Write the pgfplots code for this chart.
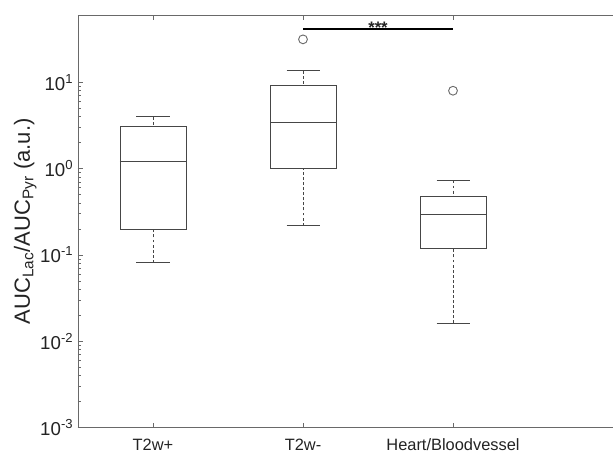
\documentclass[border=0pt]{standalone}
\usepackage{fontspec}
\setmainfont{Liberation Sans}
\usepackage{pgfplots}
\pgfplotsset{compat=1.18}
\usepgfplotslibrary{statistics}
\definecolor{axgray}{RGB}{105,105,105}
\definecolor{boxgray}{RGB}{70,70,70}
\definecolor{txtgray}{RGB}{35,35,35}

\pgfplotsset{
  matbox/.style={
    solid, boxgray, line width=0.6pt,
    mark=o, mark size=3.3pt, mark options={solid, boxgray!80, line width=0.7pt},
    boxplot/draw direction=y,
    boxplot/box extend=0.44,
    boxplot/whisker extend=0.22,
    boxplot/draw/lower whisker/.code={
      \draw[boxgray, line width=0.6pt, dash pattern=on 2.2pt off 1.6pt]
        (boxplot box cs:\pgfplotsboxplotvalue{lower whisker},0.5) --
        (boxplot box cs:\pgfplotsboxplotvalue{lower quartile},0.5);
      \draw[boxgray, line width=0.6pt]
        (boxplot whisker cs:\pgfplotsboxplotvalue{lower whisker},0) --
        (boxplot whisker cs:\pgfplotsboxplotvalue{lower whisker},1);
    },
    boxplot/draw/upper whisker/.code={
      \draw[boxgray, line width=0.6pt, dash pattern=on 2.2pt off 1.6pt]
        (boxplot box cs:\pgfplotsboxplotvalue{upper whisker},0.5) --
        (boxplot box cs:\pgfplotsboxplotvalue{upper quartile},0.5);
      \draw[boxgray, line width=0.6pt]
        (boxplot whisker cs:\pgfplotsboxplotvalue{upper whisker},0) --
        (boxplot whisker cs:\pgfplotsboxplotvalue{upper whisker},1);
    },
  }
}

\begin{document}
\begin{tikzpicture}
\begin{axis}[
  name=ax,
  scale only axis,
  width=416.25pt, height=309.5pt,
  ymode=log,
  xmin=0.5, xmax=4.2,
  ymin=1e-3, ymax=60.3,
  axis x line*=box, axis y line*=left,
  x axis line style={-}, y axis line style={-},
  axis line style={axgray, line width=0.6pt},
  tick style={axgray, line width=0.6pt},
  tick align=inside,
  xtick pos=both, ytick pos=left,
  major tick length=3.8pt, minor tick length=2.2pt,
  xtick={1,2,3},
  xticklabels={T2w+,T2w-,Heart/Bloodvessel},
  ytick={1e-3,1e-2,1e-1,1,10},
  yticklabels={10\textsuperscript{-3},10\textsuperscript{-2},10\textsuperscript{-1},10\textsuperscript{0},10\textsuperscript{1}},
  xticklabel style={font=\fontsize{12.3}{14}\selectfont, text=txtgray, yshift=-5pt},
  yticklabel style={font=\fontsize{14}{16}\selectfont, text=txtgray},
  ylabel={AUC\textsubscript{Lac}/AUC\textsubscript{Pyr} (a.u.)},
  ylabel style={font=\fontsize{16.5}{18}\selectfont, text=txtgray,
    at={(axis description cs:-0.0865,0.5)}, anchor=base},
  clip=false,
]
% T2w+
\addplot[matbox, boxplot prepared={draw position=1,
  lower whisker=0.0814, lower quartile=0.196, median=1.22,
  upper quartile=3.06, upper whisker=3.99}] coordinates {};
% T2w-
\addplot[matbox, boxplot prepared={draw position=2,
  lower whisker=0.219, lower quartile=1.0, median=3.47,
  upper quartile=9.14, upper whisker=13.6}] coordinates {(0,31.5)};
% Heart/Bloodvessel
\addplot[matbox, boxplot prepared={draw position=3,
  lower whisker=0.0162, lower quartile=0.118, median=0.293,
  upper quartile=0.474, upper whisker=0.73}] coordinates {(0,8.0)};
% significance bar
\addplot[black, line width=1.5pt, mark=none] coordinates {(2,41.8) (3,41.8)};
\node[font=\fontsize{12.5}{14}\selectfont\bfseries, anchor=base, inner sep=0pt,
  yshift=-3.6pt, text=txtgray] at (axis cs:2.5,41.8) {***};
\end{axis}
\pgfresetboundingbox
\path[use as bounding box] ([xshift=-58.5pt,yshift=-22pt]ax.south west)
  rectangle ([xshift=401.25pt,yshift=11.25pt]ax.north west);
\end{tikzpicture}
\end{document}
